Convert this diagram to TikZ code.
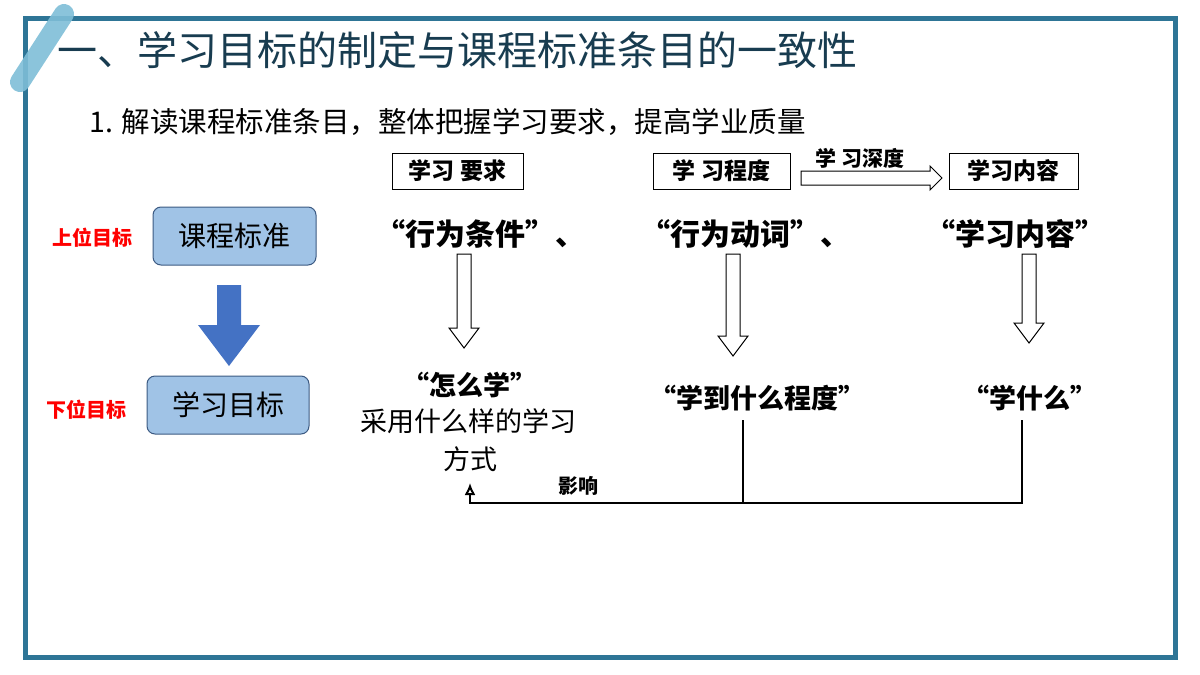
\documentclass[tikz,border=0pt]{standalone}
\usepackage{fontspec}
\usetikzlibrary{arrows.meta}
\setmainfont{Noto Sans CJK SC}
\definecolor{frame}{RGB}{46,117,150}
\definecolor{stripe}{RGB}{126,190,215}
\definecolor{ttl}{RGB}{24,60,80}
\definecolor{boxfill}{RGB}{160,195,230}
\definecolor{boxdraw}{RGB}{60,90,130}
\definecolor{bluearr}{RGB}{68,114,196}
\newcommand{\myvarrow}[3]{\draw[line width=1pt] (#1-7,#2) -- (#1+7,#2) -- (#1+7,#3-20) -- (#1+15,#3-20) -- (#1,#3) -- (#1-15,#3-20) -- (#1-7,#3-20) -- cycle;}
\begin{document}
\begin{tikzpicture}[x=1pt,y=-1pt,
  lbl/.style={draw,line width=1pt,inner sep=0pt,minimum height=36pt,font=\fontsize{23}{25}\selectfont\bfseries},
  rbox/.style={draw=boxdraw,fill=boxfill,rounded corners=8pt,line width=1pt,font=\fontsize{28}{30}\selectfont},
  q/.style={font=\fontsize{30}{34}\selectfont\bfseries},
  red/.style={text=red,font=\fontsize{20}{22}\selectfont\bfseries}]
\useasboundingbox (0,0) rectangle (1200,675);
\draw[frame,line width=5pt] (25,18) rectangle (1175,657);
\draw[stripe,line width=20pt,line cap=round,opacity=0.9] (20,82) -- (64,14);
\node[anchor=west,text=ttl,font=\fontsize{40}{44}\selectfont] (title) at (54,50) {一、学习目标的制定与课程标准条目的一致性};
\node[anchor=west,font=\fontsize{28.5}{32}\selectfont] (sub) at (86,122) {1. 解读课程标准条目，整体把握学习要求，提高学业质量};
\node[lbl,minimum width=131pt] (b1) at (457.5,171) {学习 要求};
\node[lbl,minimum width=137pt] (b2) at (721.5,171) {学 习程度};
\node[lbl,minimum width=129pt] (b3) at (1013.5,171) {学习内容};
\draw[line width=1pt] (801,171) -- (930,171) -- (930,166) -- (942,178) -- (930,190) -- (930,185) -- (801,185) -- cycle;
\node[font=\fontsize{21}{23}\selectfont\bfseries] (deep) at (860,158) {学 习深度};
\node[rbox,minimum width=163pt,minimum height=58pt] (kc) at (234.5,236) {课程标准};
\node[rbox,minimum width=162pt,minimum height=58pt] (xm) at (228,405) {学习目标};
\node[red] (up) at (92,238) {上位目标};
\node[red] (down) at (86,410) {下位目标};
\fill[bluearr] (217,285) -- (241,285) -- (241,325) -- (260,325) -- (229,366) -- (198,325) -- (217,325) -- cycle;
\node[q] (q1) at (480,234) {“行为条件”、};
\node[q] (q2) at (745,234) {“行为动词”、};
\node[q] (q3) at (1015,234) {“学习内容”};
\myvarrow{464}{254}{348}
\myvarrow{733}{254}{356}
\myvarrow{1029}{254}{343}
\node[q,font=\fontsize{27}{30}\selectfont\bfseries] (r1) at (470,385) {“怎么学”};
\node[font=\fontsize{27}{30}\selectfont] (r1b) at (468,421) {采用什么样的学习};
\node[font=\fontsize{27}{30}\selectfont] (r1c) at (470,459) {方式};
\node[q,font=\fontsize{27}{30}\selectfont\bfseries] (r2) at (757,398) {“学到什么程度”};
\node[q,font=\fontsize{27}{30}\selectfont\bfseries] (r3) at (1030,398) {“学什么”};
\coordinate (c2) at (743,420);
\coordinate (c3) at (1022,420);
\coordinate (tip) at (470,483);
\draw[line width=2pt] (c2) -- (743,503);
\draw[line width=2pt,-{Latex[open,length=12pt,width=11pt]}] (c3) -- (1022,503) -- (470,503) -- (tip);
\node[font=\fontsize{20}{22}\selectfont\bfseries] (yx) at (578,486) {影响};
\end{tikzpicture}
\end{document}
